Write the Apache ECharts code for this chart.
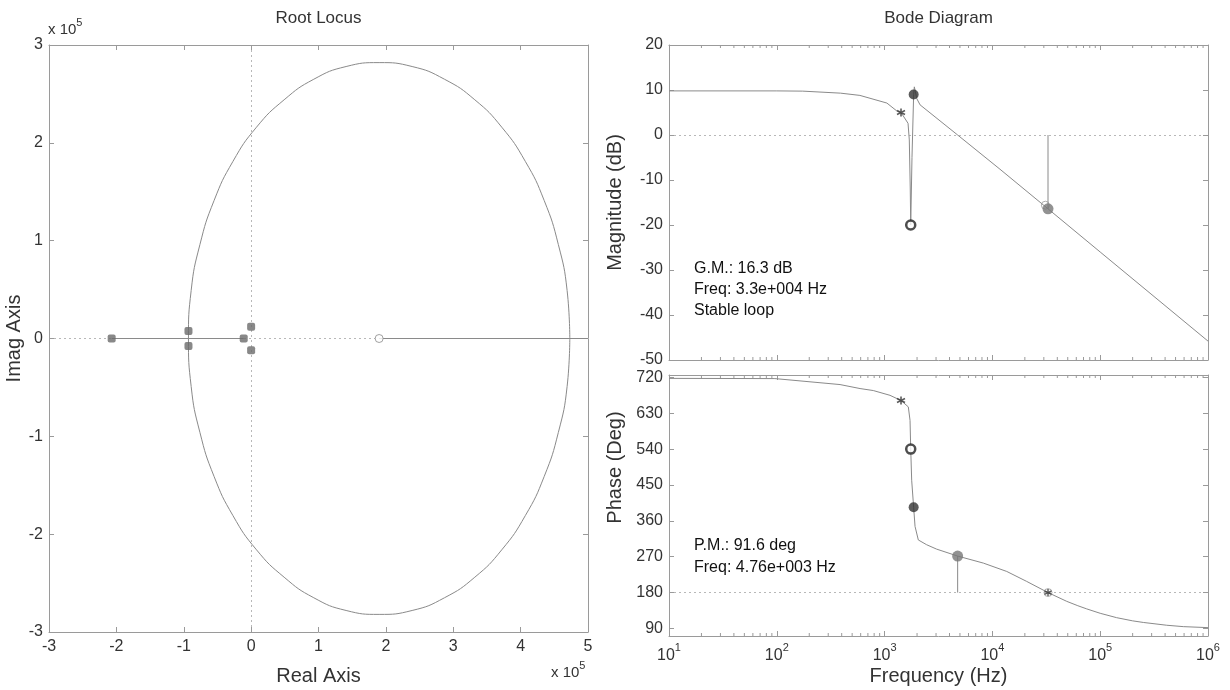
<!DOCTYPE html>
<html>
<head>
<meta charset="utf-8">
<script src="https://cdn.jsdelivr.net/npm/echarts@6/dist/echarts.min.js"></script>
<style>html,body{margin:0;padding:0;background:#fff}#c{width:1230px;height:690px}</style>
</head>
<body>
<div id="c"></div>
<script>
// ---------- Root locus data (units of 1e5) ----------
const rlPoles = [[-2.07, 0], [-0.93, 0.077], [-0.93, -0.077], [-0.11, 0], [0, 0.12], [0, -0.12]];
const rlZeros = [[1.9, 0]];
const rlCircle = [
  [4.73, 0], [4.69, 0.49], [4.56, 0.96], [4.35, 1.41], [4.07, 1.81], [3.72, 2.16], [3.32, 2.44],
  [2.87, 2.65], [2.39, 2.78], [1.90, 2.82], [1.41, 2.78], [0.93, 2.65], [0.49, 2.44], [0.08, 2.16],
  [-0.27, 1.81], [-0.55, 1.41], [-0.76, 0.96], [-0.89, 0.49], [-0.93, 0],
  [-0.89, -0.49], [-0.76, -0.96], [-0.55, -1.41], [-0.27, -1.81], [0.08, -2.16], [0.49, -2.44],
  [0.93, -2.65], [1.41, -2.78], [1.90, -2.82], [2.39, -2.78], [2.87, -2.65], [3.32, -2.44],
  [3.72, -2.16], [4.07, -1.81], [4.35, -1.41], [4.56, -0.96], [4.69, -0.49], [4.73, 0]
];
const rlRealLeft = [[-2.07, 0], [-0.11, 0]];
const rlRealRight = [[1.9, 0], [5, 0]];
const rlXTicks = [-3, 5, 1];
const rlYTicks = [-3, 3, 1];

// ---------- Bode data ----------
const magFreq = [10, 100, 174, 390, 590, 1050, 1320, 1420, 1650, 1695, 1730, 1747, 1795, 1860, 1887, 1987, 2133, 4760, 11750, 32800, 100000, 1000000];
const magDb   = [9.8, 9.8, 9.75, 9.3, 8.8, 7.1, 5.2, 5.0, 2.6, -1.1, -12, -20, -5, 9, 10.7, 8.1, 6.7, 0, -7.6, -16.4, -26.0, -45.8];
const phFreq = [10, 96, 386, 592, 785, 1122, 1420, 1660, 1722, 1747, 1783, 1860, 1916, 2055, 2456, 3040, 4760, 8240, 13580, 20800, 32800, 48900, 62000, 75000, 100000, 142000, 200000, 251000, 414000, 590000, 1000000];
const phDeg  = [717.5, 717, 702, 692, 687, 675, 662, 646, 612, 540, 462, 394, 346, 312, 300, 289, 271.6, 254, 233, 208, 180, 158, 147, 139, 128, 117, 109, 105, 98, 94.5, 92];

const magStar = [[1420, 5.0]];
const magRing = [[1747, -20]];
const magDot  = [[1860, 9]];
const gmOpen  = [[31000, -15.6]];
const gmDot   = [[32800, -16.4]];
const gmLine  = [[32800, -16.4], [32800, 0]];
const phStar  = [[1420, 662]];
const phRing  = [[1747, 540]];
const phDot   = [[1860, 394]];
const pmDot   = [[4760, 271.6]];
const pmLine  = [[4760, 271.6], [4760, 180]];
const pmStar  = [[32800, 180]];

const magTicks = [-50, 20, 10];
const phTicks = [90, 180, 270, 360, 450, 540, 630, 720];
const freqDecades = [1, 2, 3, 4, 5, 6];
const gmText = ['G.M.: 16.3 dB', 'Freq: 3.3e+004 Hz', 'Stable loop'];
const pmText = ['P.M.: 91.6 deg', 'Freq: 4.76e+003 Hz'];

// ---------- helpers ----------
const FONT = "'Liberation Sans', Arial, Helvetica, sans-serif";
const AX = '#9a9a9a';
const TXT = '#333';
const LINE = '#8a8a8a';
const lg = f => Math.log10(f);
const toLog = arr => arr.map(p => [lg(p[0]), p[1]]);
const minorTicks = [];
freqDecades.slice(0, -1).forEach(d => { for (let k = 2; k <= 9; k++) minorTicks.push([d + Math.log10(k)]); });

function baseAxis(extra) {
  return Object.assign({
    type: 'value',
    axisLine: { show: true, onZero: false, lineStyle: { color: AX, width: 1 } },
    axisTick: { show: true, inside: true, length: 5, lineStyle: { color: AX } },
    axisLabel: { show: false },
    splitLine: { show: false },
    nameTextStyle: { fontFamily: FONT, fontSize: 20, color: TXT }
  }, extra);
}
const lblStyle = { show: true, fontFamily: FONT, fontSize: 16, color: TXT, margin: 7 };
const dotted = { color: '#b8b8b8', type: [2, 3], width: 1 };

const chart = echarts.init(document.getElementById('c'), null, { renderer: 'canvas' });

const grids = [
  { left: 49, top: 45, width: 539, height: 587 },
  { left: 669, top: 45, width: 539, height: 315 },
  { left: 669, top: 375, width: 539, height: 261 }
].map(g => Object.assign({ outerBoundsMode: 'none', containLabel: false }, g));

const xAxes = [
  baseAxis({ gridIndex: 0, position: 'bottom', min: rlXTicks[0], max: rlXTicks[1], interval: rlXTicks[2],
    axisLabel: lblStyle, name: 'Real Axis', nameLocation: 'middle', nameGap: 34 }),
  baseAxis({ gridIndex: 0, position: 'top', min: rlXTicks[0], max: rlXTicks[1], interval: rlXTicks[2] }),
  baseAxis({ gridIndex: 1, position: 'bottom', min: 1, max: 6, interval: 1 }),
  baseAxis({ gridIndex: 1, position: 'top', min: 1, max: 6, interval: 1 }),
  baseAxis({ gridIndex: 2, position: 'bottom', min: 1, max: 6, interval: 1,
    axisLabel: Object.assign({}, lblStyle, {
      margin: 6,
      formatter: v => '{b|10}{s|' + v + '}',
      rich: { b: { fontFamily: FONT, fontSize: 16, color: TXT, lineHeight: 22, verticalAlign: 'bottom' },
              s: { fontFamily: FONT, fontSize: 11, color: TXT, lineHeight: 22, verticalAlign: 'top' } }
    }),
    name: 'Frequency (Hz)', nameLocation: 'middle', nameGap: 30 }),
  baseAxis({ gridIndex: 2, position: 'top', min: 1, max: 6, interval: 1 })
];
const yAxes = [
  baseAxis({ gridIndex: 0, position: 'left', min: rlYTicks[0], max: rlYTicks[1], interval: rlYTicks[2],
    axisLabel: Object.assign({}, lblStyle, { margin: 6 }), name: 'Imag Axis', nameLocation: 'middle', nameGap: 13 }),
  baseAxis({ gridIndex: 0, position: 'right', min: rlYTicks[0], max: rlYTicks[1], interval: rlYTicks[2] }),
  baseAxis({ gridIndex: 1, position: 'left', min: magTicks[0], max: magTicks[1], interval: magTicks[2],
    axisLabel: Object.assign({}, lblStyle, { margin: 6 }), name: 'Magnitude (dB)', nameLocation: 'middle', nameGap: 44 }),
  baseAxis({ gridIndex: 1, position: 'right', min: magTicks[0], max: magTicks[1], interval: magTicks[2] }),
  baseAxis({ gridIndex: 2, position: 'left', min: 71, max: 726,
    axisTick: { show: true, inside: true, length: 5, lineStyle: { color: AX }, customValues: phTicks },
    axisLabel: Object.assign({}, lblStyle, { margin: 6, customValues: phTicks }),
    name: 'Phase (Deg)', nameLocation: 'middle', nameGap: 44,
    nameTextStyle: { fontFamily: FONT, fontSize: 20, color: TXT, padding: [0, 0, 0, 76] } }),
  baseAxis({ gridIndex: 2, position: 'right', min: 71, max: 726,
    axisTick: { show: true, inside: true, length: 5, lineStyle: { color: AX }, customValues: phTicks } })
];

function minorTickSeries(xi, yi) {
  return {
    type: 'custom', xAxisIndex: xi, yAxisIndex: yi, data: minorTicks, silent: true, clip: false, z: 1,
    renderItem: (params, api) => {
      const x = api.coord([api.value(0), 0])[0];
      const cs = params.coordSys;
      const st = { stroke: AX, lineWidth: 1 };
      return { type: 'group', children: [
        { type: 'line', shape: { x1: x, y1: cs.y + cs.height, x2: x, y2: cs.y + cs.height - 3 }, style: st },
        { type: 'line', shape: { x1: x, y1: cs.y, x2: x, y2: cs.y + 3 }, style: st }
      ] };
    }
  };
}
const lineS = (data, xi, yi, extra) => Object.assign({
  type: 'line', xAxisIndex: xi, yAxisIndex: yi, data, showSymbol: false, symbol: 'none',
  lineStyle: { color: LINE, width: 1 }, silent: true, animation: false
}, extra);
const scat = (data, xi, yi, symbol, size, itemStyle, extra) => Object.assign({
  type: 'scatter', xAxisIndex: xi, yAxisIndex: yi, data, symbol, symbolSize: size, itemStyle, silent: true, z: 5
}, extra);
const starPath = 'path://M0,-5L0,5M-4.5,-2.5L4.5,2.5M-4.5,2.5L4.5,-2.5';
const zeroLine = axisKey => ({ silent: true, symbol: 'none', label: { show: false }, lineStyle: dotted,
  z: 0, data: axisKey.map(k => k) });

const series = [
  lineS(rlCircle, 0, 0, { smooth: 0.5, markLine: zeroLine([{ xAxis: 0 }, { yAxis: 0 }]) }),
  lineS(rlRealLeft, 0, 0, { z: 4 }),
  lineS(rlRealRight, 0, 0, { z: 4 }),
  scat(rlPoles, 0, 0, 'roundRect', 8, { color: '#6a6a6a' }),
  scat(rlZeros, 0, 0, 'circle', 8, { color: '#fff', borderColor: '#8a8a8a', borderWidth: 1 }),

  minorTickSeries(2, 2),
  lineS(toLog(magFreq.map((f, i) => [f, magDb[i]])), 2, 2, { z: 3, markLine: zeroLine([{ yAxis: 0 }]) }),
  lineS(toLog(gmLine), 2, 2, { z: 3 }),
  scat(toLog(magStar), 2, 2, starPath, 8, { color: '#333', borderColor: '#333', borderWidth: 1.6 }),
  scat(toLog(magRing), 2, 2, 'circle', 9, { color: '#fff', borderColor: '#222', borderWidth: 2.5 }),
  scat(toLog(magDot), 2, 2, 'circle', 10, { color: '#333' }),
  scat(toLog(gmOpen), 2, 2, 'circle', 8, { color: 'rgba(255,255,255,0)', borderColor: '#999', borderWidth: 1 }),
  scat(toLog(gmDot), 2, 2, 'circle', 11, { color: '#777' }),

  minorTickSeries(4, 4),
  lineS(toLog(phFreq.map((f, i) => [f, phDeg[i]])), 4, 4, { z: 3, markLine: zeroLine([{ yAxis: 180 }]) }),
  lineS(toLog(pmLine), 4, 4, { z: 3 }),
  scat(toLog(phStar), 4, 4, starPath, 8, { color: '#333', borderColor: '#333', borderWidth: 1.6 }),
  scat(toLog(phRing), 4, 4, 'circle', 9, { color: '#fff', borderColor: '#222', borderWidth: 2.5 }),
  scat(toLog(phDot), 4, 4, 'circle', 10, { color: '#333' }),
  scat(toLog(pmDot), 4, 4, 'circle', 11, { color: '#777' }),
  scat(toLog(pmStar), 4, 4, 'circle', 8, { color: 'rgba(255,255,255,0)', borderColor: '#999', borderWidth: 1 }),
  scat(toLog(pmStar), 4, 4, starPath, 7, { color: '#333', borderColor: '#333', borderWidth: 1.4 }, { z: 6 })
];

const txt = (text, x, y, size, align, fill) => ({
  type: 'text', x, y, silent: true,
  style: { text, fontFamily: FONT, fontSize: size, fill: fill || TXT, textAlign: align, align: align,
           textVerticalAlign: 'middle', verticalAlign: 'middle' }
});
const supRich = {
  a: { fontSize: 15, fill: TXT, color: TXT, fontFamily: FONT, lineHeight: 20, verticalAlign: 'bottom' },
  b: { fontSize: 11, fill: TXT, color: TXT, fontFamily: FONT, lineHeight: 20, verticalAlign: 'top' }
};
const supText = (x, y) => ({ type: 'text', x, y, silent: true, style: {
  text: '{a|x 10}{b|5}', fontFamily: FONT, align: 'left', verticalAlign: 'middle',
  textAlign: 'left', textVerticalAlign: 'middle', rich: supRich } });

const graphic = [
  txt('Root Locus', 318.5, 18, 17, 'center'),
  txt('Bode Diagram', 938.5, 18, 17, 'center'),
  supText(48, 27),
  supText(551, 670)
];
gmText.forEach((t, i) => graphic.push(txt(t, 694, 269 + i * 21, 16, 'left', '#111')));
pmText.forEach((t, i) => graphic.push(txt(t, 694, 546 + i * 22, 16, 'left', '#111')));

chart.setOption({
  animation: false,
  backgroundColor: '#fff',
  textStyle: { fontFamily: FONT },
  grid: grids,
  xAxis: xAxes,
  yAxis: yAxes,
  series,
  graphic
});
</script>
</body>
</html>
